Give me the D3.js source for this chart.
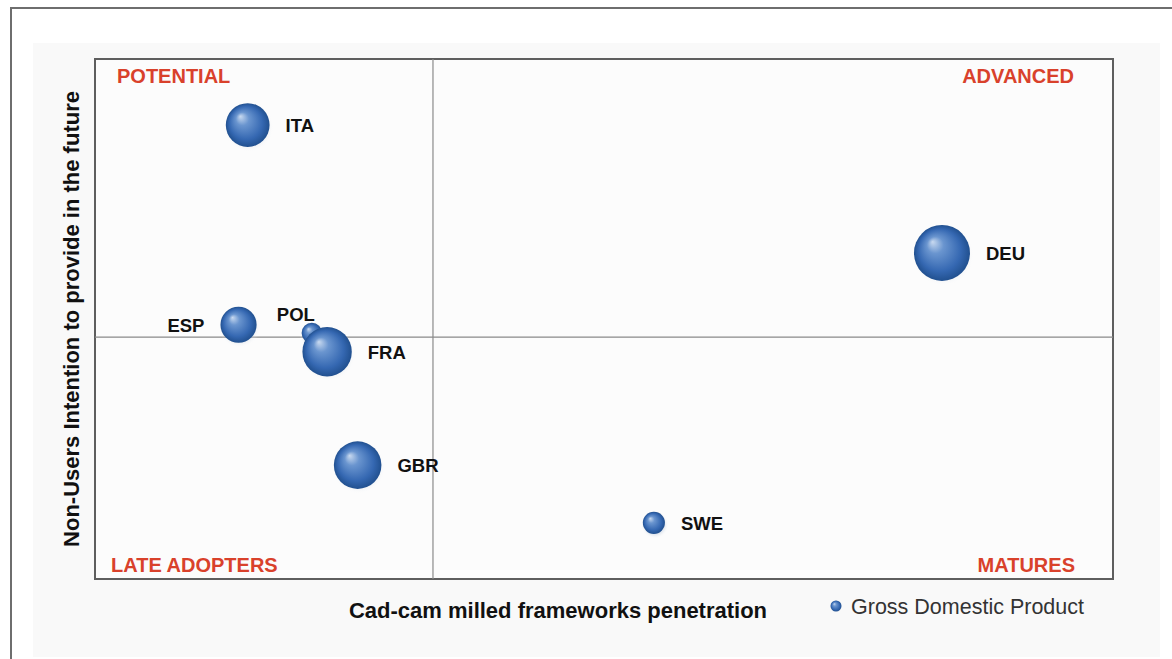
<!DOCTYPE html>
<html><head><meta charset="utf-8">
<script src="https://cdn.jsdelivr.net/npm/d3@7"></script>
<style>html,body{margin:0;padding:0;background:#fff;}svg{display:block;}</style>
</head><body><svg id="c" width="1172" height="659"></svg>
<script>
const countries = ["ITA","DEU","ESP","POL","FRA","GBR","SWE"];
const penetration = [15.0, 83.2, 14.1, 21.3, 22.8, 25.8, 54.9];
const intention = [87.3, 62.7, 48.9, 47.3, 43.7, 21.9, 10.8];
const gdp = [2.2, 3.6, 1.5, 0.48, 2.8, 2.6, 0.56];
const labelSide = ["right","right","left","top","right","right","right"];
const quadrants = ["POTENTIAL","ADVANCED","LATE ADOPTERS","MATURES"];
const xThreshold = 33.2, yThreshold = 46.5;
const xTitle = "Cad-cam milled frameworks penetration";
const yTitle = "Non-Users Intention to provide in the future";
const legendLabel = "Gross Domestic Product";

const FONT = "Liberation Sans, Arial, sans-serif";
const svg = d3.select("#c");
const L=95, R=1113, T=59, B=579;
const x = d3.scaleLinear().domain([0,100]).range([L,R]);
const y = d3.scaleLinear().domain([0,100]).range([B,T]);
const r = d3.scaleSqrt().domain([0,3.6]).range([0,28]);

const defs = svg.append("defs");
const g = defs.append("radialGradient").attr("id","ball").attr("cx","50%").attr("cy","50%").attr("r","50%").attr("fx","33%").attr("fy","30%");
g.append("stop").attr("offset","0%").attr("stop-color","#c9daf0");
g.append("stop").attr("offset","30%").attr("stop-color","#6a95cf");
g.append("stop").attr("offset","75%").attr("stop-color","#3568b2");
g.append("stop").attr("offset","100%").attr("stop-color","#21508f");
const sh = defs.append("radialGradient").attr("id","shadow");
sh.append("stop").attr("offset","70%").attr("stop-color","#c2cede").attr("stop-opacity",0.4);
sh.append("stop").attr("offset","100%").attr("stop-color","#ffffff").attr("stop-opacity",0);

// outer frame
svg.append("rect").attr("x",33).attr("y",43).attr("width",1127).attr("height",614).attr("fill","#f9f9f9");
svg.append("path").attr("d","M11,659 L11,8 L1172,8").attr("fill","none").attr("stroke","#6e6e6e").attr("stroke-width",2);

// plot area
svg.append("rect").attr("x",L).attr("y",T).attr("width",R-L).attr("height",B-T).attr("fill","#fcfcfc").attr("stroke","#5e5e5e").attr("stroke-width",2);
svg.append("line").attr("x1",x(xThreshold)).attr("x2",x(xThreshold)).attr("y1",T).attr("y2",B).attr("stroke","#8a8a8a").attr("stroke-width",1.2);
svg.append("line").attr("x1",L).attr("x2",R).attr("y1",y(yThreshold)).attr("y2",y(yThreshold)).attr("stroke","#8a8a8a").attr("stroke-width",1.2);

// quadrant labels
const qpos = [
  {x:L+22, y:T+24, a:"start"},
  {x:R-39, y:T+24, a:"end"},
  {x:L+16, y:B-7, a:"start"},
  {x:R-38, y:B-7, a:"end"}
];
svg.selectAll("text.q").data(quadrants).join("text").attr("class","q")
  .attr("x",(d,i)=>qpos[i].x).attr("y",(d,i)=>qpos[i].y).attr("text-anchor",(d,i)=>qpos[i].a)
  .attr("font-family",FONT).attr("font-weight","bold").attr("font-size",20)
  .attr("fill","#d9412b").text(d=>d);

const data = countries.map((c,i)=>({c, px:penetration[i], py:intention[i], gdp:gdp[i], side:labelSide[i]}));

const drawOrder = ["ITA","DEU","ESP","GBR","SWE","POL","FRA"].map(c=>data.find(d=>d.c===c));
const balls = svg.append("g").selectAll("g").data(drawOrder).join("g");
balls.append("circle").attr("cx",d=>x(d.px)+1).attr("cy",d=>y(d.py)+2).attr("r",d=>r(d.gdp)+3).attr("fill","url(#shadow)");
balls.append("circle").attr("cx",d=>x(d.px)).attr("cy",d=>y(d.py)).attr("r",d=>r(d.gdp)).attr("fill","url(#ball)");

svg.append("g").selectAll("text").data(data).join("text")
  .attr("x",d=>d.side==="right"? x(d.px)+r(d.gdp)+16 : d.side==="left"? x(d.px)-r(d.gdp)-16 : x(d.px)-35)
  .attr("y",d=>d.side==="top"? y(d.py)-12 : y(d.py)+7)
  .attr("text-anchor",d=>d.side==="left"?"end":"start")
  .attr("font-family",FONT).attr("font-weight","bold").attr("font-size",18.5)
  .attr("fill","#111").text(d=>d.c);

// axis titles
svg.append("text").attr("x",558).attr("y",618).attr("text-anchor","middle")
  .attr("font-family",FONT).attr("font-weight","bold").attr("font-size",22).attr("fill","#111").text(xTitle);
svg.append("text").attr("transform","translate(79,319) rotate(-90)").attr("text-anchor","middle")
  .attr("font-family",FONT).attr("font-weight","bold").attr("font-size",22).attr("fill","#111").text(yTitle);

// legend
svg.append("circle").attr("cx",836).attr("cy",606).attr("r",5.5).attr("fill","url(#ball)");
svg.append("text").attr("x",851).attr("y",614).attr("font-family",FONT).attr("font-size",21.5).attr("fill","#333").text(legendLabel);
</script></body></html>
